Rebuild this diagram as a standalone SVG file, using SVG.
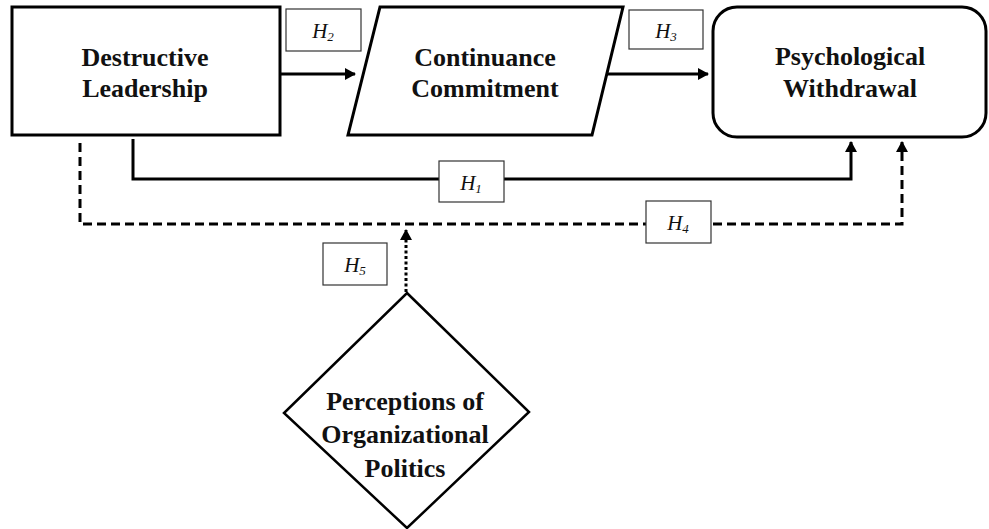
<svg xmlns="http://www.w3.org/2000/svg" width="989" height="529" viewBox="0 0 989 529">
<style>
.node{fill:#fff;stroke:#000;stroke-width:3}
.t{font-family:'Liberation Serif','Times New Roman',serif;font-weight:bold;font-size:26px;fill:#111;text-anchor:middle}
.lb{fill:#fff;stroke:#333;stroke-width:1.2}
.h{font-family:'Liberation Serif','Times New Roman',serif;font-style:italic;font-size:21px;fill:#111;text-anchor:middle}
.sub{font-size:13px}
.c{fill:none;stroke:#000;stroke-width:3}
.dash{stroke-dasharray:9 5}
.dot{stroke-dasharray:3 2.5}
</style>
<defs>
<marker id="ah" markerUnits="userSpaceOnUse" markerWidth="11" markerHeight="12" refX="10" refY="6" orient="auto">
<path d="M0,0 L11,6 L0,12 z" fill="#000"/>
</marker>
</defs>
<g id="connectors">
<path class="c" d="M280,74 H355" marker-end="url(#ah)"/>
<path class="c" d="M607,74 H708" marker-end="url(#ah)"/>
<path class="c" d="M133,139 V179 H851 V142" marker-end="url(#ah)"/>
<path class="c dash" d="M80,143 V224 H902 V142" marker-end="url(#ah)"/>
<path class="c dot" d="M406,292 V230" marker-end="url(#ah)"/>
</g>
<g id="destructive-leadership">
<rect class="node" x="12" y="7" width="268" height="128"/>
<text class="t" x="145" y="66">Destructive</text>
<text class="t" x="145" y="97">Leadership</text>
</g>
<g id="continuance-commitment">
<polygon class="node" points="380,7 623,7 592,135 348,135"/>
<text class="t" x="485" y="66">Continuance</text>
<text class="t" x="485" y="97">Commitment</text>
</g>
<g id="psychological-withdrawal">
<rect class="node" x="713" y="7" width="273" height="130" rx="24" ry="24"/>
<text class="t" x="850" y="65">Psychological</text>
<text class="t" x="850" y="97">Withdrawal</text>
</g>
<g id="perceptions-of-organizational-politics">
<polygon class="node" points="407,293 529,412 407,528 284,413" style="stroke-width:2.5"/>
<text class="t" x="405" y="410">Perceptions of</text>
<text class="t" x="405" y="443">Organizational</text>
<text class="t" x="405" y="477">Politics</text>
</g>
<g id="label-h2">
<rect class="lb" x="286" y="9" width="75" height="42"/>
<text class="h" x="323" y="38">H<tspan class="sub" dy="3">2</tspan></text>
</g>
<g id="label-h3">
<rect class="lb" x="629" y="10" width="74" height="39"/>
<text class="h" x="666" y="38">H<tspan class="sub" dy="3">3</tspan></text>
</g>
<g id="label-h1">
<rect class="lb" x="439" y="161" width="65" height="41"/>
<text class="h" x="471" y="190">H<tspan class="sub" dy="3">1</tspan></text>
</g>
<g id="label-h4">
<rect class="lb" x="646" y="201" width="65" height="42"/>
<text class="h" x="678" y="230">H<tspan class="sub" dy="3">4</tspan></text>
</g>
<g id="label-h5">
<rect class="lb" x="323" y="243" width="64" height="42"/>
<text class="h" x="355" y="272">H<tspan class="sub" dy="3">5</tspan></text>
</g>
</svg>
